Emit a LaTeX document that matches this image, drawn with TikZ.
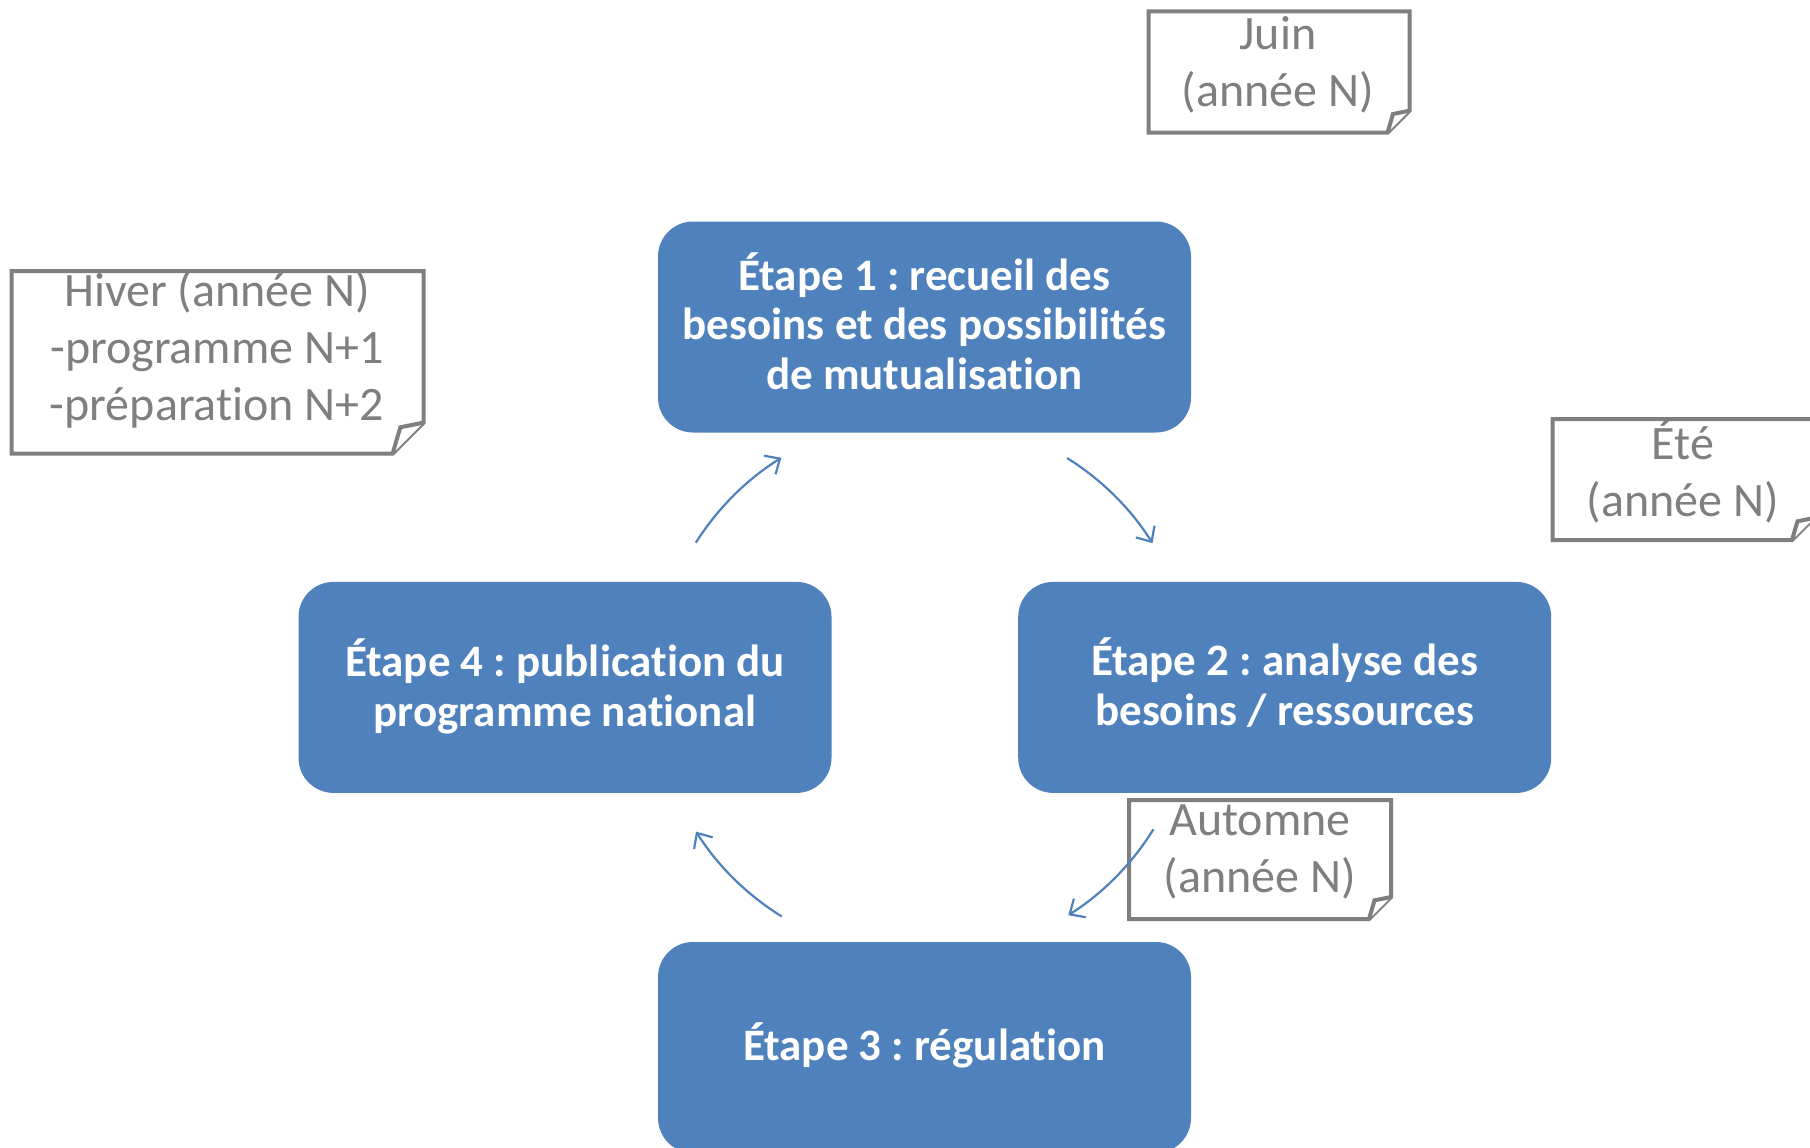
\documentclass[tikz,border=0pt]{standalone}
\usepackage{fontspec}
\setmainfont{Carlito}[Ligatures=NoCommon]
\usetikzlibrary{arrows.meta,calc}
\definecolor{stepblue}{HTML}{4F81BD}
\definecolor{notegray}{HTML}{7F7F7F}
\frenchspacing
\tikzset{
  stepbox/.style={rectangle, rounded corners=35pt, fill=stepblue, minimum width=533pt, minimum height=211pt, text=white, font=\fontsize{45}{49.6}\selectfont\bfseries, align=center, inner sep=0pt},
  notetext/.style={text=notegray, font=\fontsize{48}{57}\selectfont, align=center, inner sep=0pt},
  noteline/.style={draw=notegray, line width=4pt, fill=white},
  cyc/.style={draw=stepblue, line width=2.2pt, -{Straight Barb[length=12pt,width=22pt]}},
}
\newcommand\mynote[5]{%
  \draw[noteline] (#1,#2) -- (#3,#2) -- (#3,#4-#5) -- (#3-#5,#4) -- (#1,#4) -- cycle;
  \draw[noteline] (#3-#5,#4) -- (#3-0.75*#5,#4-0.85*#5) -- (#3,#4-#5);
}
\begin{document}
\begin{tikzpicture}[x=1pt,y=-1pt]
\useasboundingbox (0,0) rectangle (1810,1148);
\fill[white] (0,0) rectangle (1810,1148);

% notes
\mynote{1148.5}{11.5}{1409.5}{132.7}{22}
\mynote{11.5}{271}{423.6}{453.6}{31}
\mynote{1552.6}{419}{1814}{540}{22}
\mynote{1129}{800}{1391}{919}{22}
\node[notetext] (juin) at (1278,65) {Juin\\(année N)};
\node[notetext] (hiver) at (217,350) {Hiver (année N)\\-programme N+1\\-préparation N+2};
\node[notetext] (ete) at (1683,471) {Été\\(année N)};
\node[notetext] (automne) at (1260,852) {Automne\\(année N)};

% steps
\node[stepbox] (e1) at (924.5,327) {};
\node[stepbox, fill=none] (t1) at (924.5,321) {Étape 1 : recueil des\\besoins et des possibilités\\de mutualisation};
\node[stepbox] (e2) at (1284.7,687.4) {};
\node[stepbox, fill=none] (t2) at (1284.7,682.4) {Étape 2 : analyse des\\besoins / ressources};
\node[stepbox] (e3) at (924.5,1047.5) {};
\node[stepbox, fill=none] (t3) at (924.5,1045) {Étape 3 : régulation};
\node[stepbox] (e4) at (565,687.4) {};
\node[stepbox, fill=none] (t4) at (565,686.2) {Étape 4 : publication du\\programme national};

% cycle arrows
\coordinate (ctr) at (924,687);
\coordinate (s41) at ($(ctr)+(-147.7:270)$);
\coordinate (s12) at ($(ctr)+(-58:270)$);
\coordinate (s23) at ($(ctr)+(31.8:270)$);
\coordinate (s34) at ($(ctr)+(121.8:270)$);
\draw[cyc] (s41) arc[start angle=-147.7, end angle=-121.9, radius=270];
\draw[cyc] (s12) arc[start angle=-58, end angle=-32.2, radius=270];
\draw[cyc] (s23) arc[start angle=31.8, end angle=57.7, radius=270];
\draw[cyc] (s34) arc[start angle=121.8, end angle=147.6, radius=270];
\end{tikzpicture}
\end{document}
